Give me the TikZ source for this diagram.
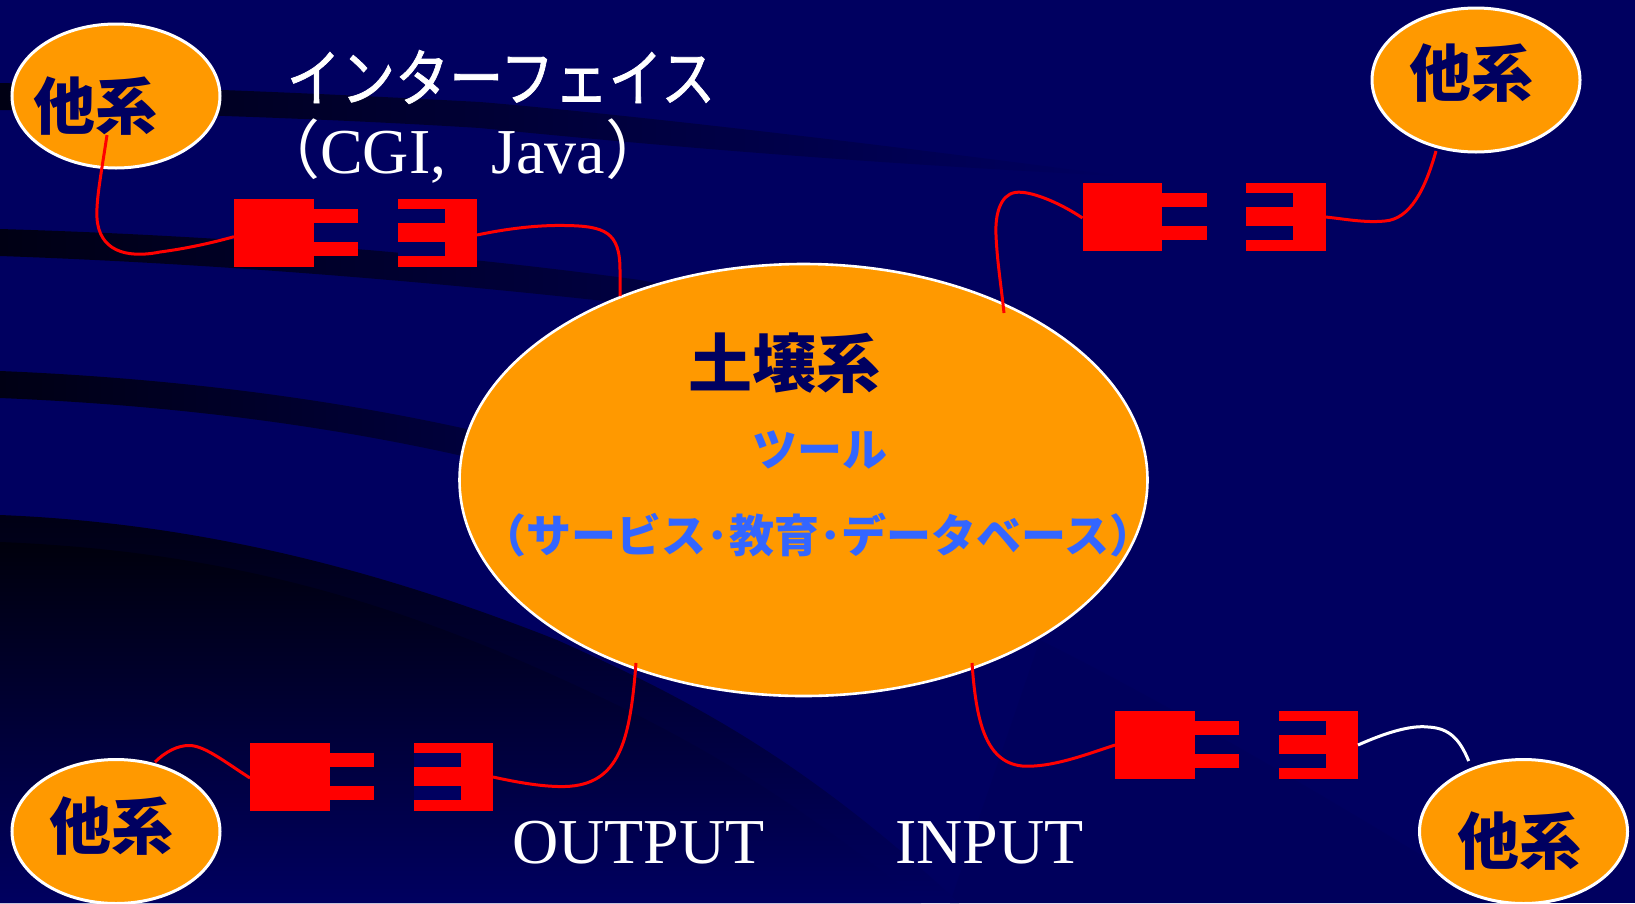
\documentclass[tikz,border=0pt]{standalone}
\usepackage{graphicx}
\usepackage{fontspec}
\setmainfont{Liberation Serif}
\newfontfamily\jpf{Noto Sans CJK JP}
\newfontfamily\jpemb{Noto Sans CJK JP}[FakeBold=1.2]
\usetikzlibrary{shapes.geometric}
\definecolor{navy}{HTML}{000060}
\definecolor{orng}{HTML}{FF9900}
\definecolor{toolblue}{HTML}{3366FF}
\definecolor{swdark}{HTML}{000014}
\definecolor{swmid}{HTML}{000048}
\definecolor{swlow}{HTML}{000042}
\definecolor{swdeep}{HTML}{00000C}
\definecolor{swfaint}{HTML}{00005C}
\tikzset{
 blob/.style={ellipse,draw=white,line width=3pt,fill=orng,inner sep=0pt,outer sep=0pt},
 redbox/.style={rectangle,fill=red,draw=none,inner sep=0pt,outer sep=0pt},
 hole/.style={rectangle,fill=navy,draw=none,inner sep=0pt,outer sep=0pt},
 wire/.style={draw=red,line width=3pt},
 whitewire/.style={draw=white,line width=3pt},
 ttl/.style={font=\jpf\bfseries\fontsize{62}{62}\selectfont,text=navy,inner sep=0pt},
 tool/.style={font=\jpf\bfseries\fontsize{45}{45}\selectfont,text=toolblue,inner sep=0pt},
 serif/.style={font=\fontsize{64}{64}\selectfont,text=white,inner sep=0pt,anchor=base west},
}
\newcommand{\plugpair}[3]{% name, left x, centre y
 \node[redbox,minimum width=79.5pt,minimum height=68pt] (#1P) at (#2+39.75,#3) {};
 \node[redbox,minimum width=45pt,minimum height=14pt] (#1Pa) at (#2+101.5,#3-17) {};
 \node[redbox,minimum width=45pt,minimum height=14pt] (#1Pb) at (#2+101.5,#3+16) {};
 \node[redbox,minimum width=79.5pt,minimum height=68pt] (#1S) at (#2+203.25,#3) {};
 \node[hole,minimum width=47pt,minimum height=14pt] (#1Sa) at (#2+187,#3-17) {};
 \node[hole,minimum width=47pt,minimum height=14pt] (#1Sb) at (#2+187,#3+16) {};
}
\begin{document}
\begin{tikzpicture}[x=1pt,y=-1pt]
\useasboundingbox (0,0) rectangle (1635,903);
\fill[navy] (0,0) rectangle (1635,903);
% background swooshes
\fill[swfaint] (1040,640) .. controls (1200,720) and (1380,830) .. (1500,903) -- (950,903) -- cycle;
\shade[left color=swdark,middle color=swmid,right color=navy] (0,83) .. controls (200,88) and (350,95) .. (480,102) .. controls (600,112) and (850,140) .. (1120,176) .. controls (900,165) and (700,150) .. (480,128) .. controls (350,120) and (200,114) .. (0,110) -- cycle;
\shade[left color=swdark,right color=navy] (0,229) .. controls (200,235) and (420,250) .. (640,280) -- (1100,370) -- (640,305) .. controls (420,280) and (200,263) .. (0,256) -- cycle;
\shade[left color=swdark,right color=navy] (0,371) .. controls (170,378) and (330,398) .. (480,432) -- (900,530) -- (480,460) .. controls (330,425) and (170,405) .. (0,398) -- cycle;
\shade[top color=swdark,middle color=swlow,bottom color=navy] (0,515) .. controls (200,523) and (380,570) .. (557,640) .. controls (680,695) and (800,755) .. (959,903) -- (0,903) -- cycle;
\shade[top color=swdeep,middle color=swlow,bottom color=navy] (0,542) .. controls (200,550) and (350,590) .. (500,652) .. controls (640,712) and (760,770) .. (921,903) -- (0,903) -- cycle;
% system blobs
\node[blob,minimum width=688pt,minimum height=432pt,line width=2.6pt] (soil) at (803.5,480) {};
\node[blob,minimum width=208pt,minimum height=144pt] (sysTL) at (116,96) {};
\node[blob,minimum width=208pt,minimum height=144pt] (sysTR) at (1476,80) {};
\node[blob,minimum width=208pt,minimum height=144pt] (sysBL) at (116,831.5) {};
\node[blob,minimum width=208pt,minimum height=144pt] (sysBR) at (1523.5,831.5) {};
% labels
\node[ttl] (tTL) at (95,106) {他系};
\node[ttl] (tTR) at (1471,73.5) {他系};
\node[ttl] (tBL) at (111,826) {他系};
\node[ttl] (tBR) at (1519,841.5) {他系};
\node[ttl,font=\jpf\bfseries\fontsize{64}{64}\selectfont] (tSoil) at (784,363) {土壌系};
\node[tool] (tTool) at (820,450) {ツール};
\node[tool] (tSvc) at (818,535) {（サービス･教育･データベース）};
\node[inner sep=0pt,text=white] (tIf) at (501,77) {\scalebox{0.985}[1.14]{\jpemb\fontsize{55}{55}\selectfont インターフェイス}};
\node[serif] (tCgi) at (256,173) {{\jpf （}CGI,\hspace{45pt}Java{\jpf ）}};
\node[serif] (tOut) at (512,863) {OUTPUT};
\node[serif] (tIn) at (895,863) {INPUT};
% plugs
\plugpair{a}{234}{233}
\plugpair{b}{1082.5}{216.5}
\plugpair{c}{250}{776.5}
\plugpair{d}{1115}{744.5}
% connector ends
\coordinate (aA) at (107,135);
\coordinate (aB) at ([yshift=-3.7pt]aP.west);
\coordinate (aC) at ([yshift=-2pt]aS.east);
\coordinate (aD) at (620,296);
\coordinate (bA) at ([yshift=-1.5pt]bP.west);
\coordinate (bB) at (1004,313);
\coordinate (bC) at ([yshift=-0.5pt]bS.east);
\coordinate (bD) at (1436,151);
\coordinate (cA) at (155,762);
\coordinate (cB) at ([yshift=-1.5pt]cP.west);
\coordinate (cC) at ([yshift=-0.5pt]cS.east);
\coordinate (cD) at (636,663);
\coordinate (dA) at (972,663);
\coordinate (dB) at ([yshift=-0.5pt]dP.west);
\coordinate (dC) at ([yshift=-0.5pt]dS.east);
\coordinate (dD) at (1468.7,761);
% connectors
\draw[wire] (aA) .. controls (101,175) and (96,200) .. (97,218) .. controls (99,250) and (125,259) .. (160,252) .. controls (190,248) and (215,242) .. (aB);
\draw[wire] (aC) .. controls (510,228) and (540,225) .. (565,225.5) .. controls (605,226) and (620,232) .. (620,270) -- (aD);
\draw[wire] (bA) .. controls (1060,203) and (1030,190) .. (1015,192.5) .. controls (1000,195) and (995,215) .. (996,235) .. controls (997,260) and (1001,285) .. (bB);
\draw[wire] (bC) .. controls (1345,219) and (1365,223) .. (1385,221) .. controls (1410,219) and (1425,190) .. (bD);
\draw[wire] (cA) .. controls (165,752) and (178,745) .. (190,745.5) .. controls (205,746) and (225,762) .. (cB);
\draw[wire] (cC) .. controls (520,783) and (545,787) .. (565,786.5) .. controls (620,785) and (630,740) .. (cD);
\draw[wire] (dA) .. controls (976,720) and (985,762) .. (1022,766) .. controls (1050,768) and (1085,755) .. (dB);
\draw[whitewire] (dC) .. controls (1385,733) and (1410,725) .. (1428,727) .. controls (1450,728) and (1460,740) .. (dD);
\end{tikzpicture}
\end{document}
